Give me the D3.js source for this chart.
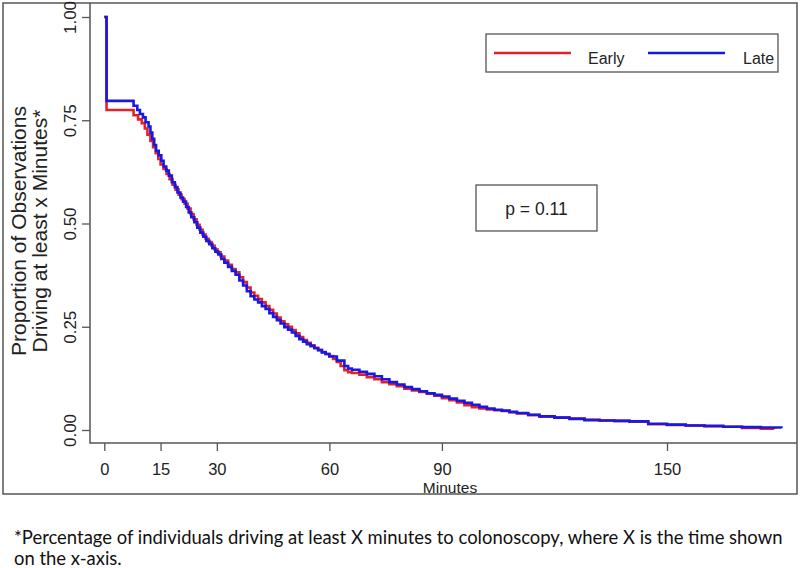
<!DOCTYPE html>
<html>
<head>
<meta charset="utf-8">
<script src="https://cdn.jsdelivr.net/npm/d3@7"></script>
<style>
  html, body { margin: 0; padding: 0; background: #fff; }
  svg { display: block; }
</style>
</head>
<body>
<svg id="chart" width="800" height="568"></svg>
<script>
// ---------- DATA ----------
const seriesNames = ["Early", "Late"];
const xTickValues = [0, 15, 30, 60, 90, 150];
const yTickValues = [0, 0.25, 0.5, 0.75, 1.0];
const pValueLabel = "p = 0.11";
const xTitle = "Minutes";
const yTitleLines = ["Proportion of Observations", "Driving at least x Minutes*"];
const footnoteLines = [
  "*Percentage of individuals driving at least X minutes to colonoscopy, where X is the time shown",
  "on the x-axis."
];

// Early group: [minutes, proportion]
const earlyTimes = [0, 0.6, 7.8, 9, 10, 10.8, 11.5, 12.3, 13, 13.7, 14.4, 15, 15.8, 16.6, 17.4, 18.2, 19, 19.8, 20.6, 21.4, 22.2, 23, 23.8, 24.6, 25.4, 26.2, 27, 27.8, 28.6, 29.4, 30.2, 31, 32, 33, 34, 35, 36, 37, 38, 39, 40, 41, 42, 43, 44, 45, 46, 47, 48, 49, 50, 51, 52, 53, 54, 55, 56, 57, 58, 59, 60, 61, 62, 63, 64, 65, 66, 68, 70, 72, 74, 76, 78, 80, 82, 84, 86, 88, 90, 92, 94, 96, 98, 100, 102, 104, 106, 108, 110, 113, 116, 120, 124, 128, 132, 136, 140, 145, 150, 155, 160, 165, 170, 175, 178.5];
const earlyProps = [1.0, 0.775, 0.762, 0.752, 0.743, 0.73, 0.715, 0.70, 0.685, 0.67, 0.656, 0.643, 0.632, 0.62, 0.607, 0.594, 0.582, 0.57, 0.559, 0.548, 0.536, 0.523, 0.51, 0.497, 0.485, 0.473, 0.463, 0.455, 0.446, 0.437, 0.43, 0.42, 0.41, 0.40, 0.39, 0.382, 0.37, 0.358, 0.345, 0.333, 0.325, 0.317, 0.309, 0.30, 0.291, 0.282, 0.272, 0.263, 0.256, 0.25, 0.242, 0.234, 0.225, 0.218, 0.211, 0.205, 0.199, 0.194, 0.189, 0.184, 0.179, 0.172, 0.165, 0.155, 0.145, 0.14, 0.138, 0.134, 0.128, 0.123, 0.116, 0.111, 0.106, 0.10, 0.096, 0.092, 0.088, 0.083, 0.077, 0.072, 0.067, 0.06, 0.055, 0.052, 0.05, 0.048, 0.046, 0.043, 0.04, 0.036, 0.033, 0.03, 0.028, 0.025, 0.023, 0.022, 0.02, 0.014, 0.012, 0.011, 0.009, 0.008, 0.005, 0.003, 0.002];

// Late group: [minutes, proportion]
const lateTimes = [0, 0.6, 7.8, 8.8, 9.5, 10.3, 11, 11.8, 12.3, 12.8, 13.3, 13.8, 14.5, 15.2, 15.8, 16.5, 17.2, 18, 18.8, 19.5, 20.3, 21, 21.8, 22.5, 23.2, 24, 24.8, 25.6, 26.4, 27.2, 28, 28.8, 29.6, 30.4, 31.2, 32, 33, 34, 35, 36, 37, 38, 39, 40, 41, 42, 43, 44, 45, 46, 47, 48, 49, 50, 51, 52, 53, 54, 55, 56, 57, 58, 59, 60, 62, 64, 65, 66, 68, 70, 72, 74, 76, 78, 80, 82, 84, 86, 88, 90, 92, 94, 96, 98, 100, 102, 104, 106, 108, 110, 113, 116, 120, 124, 128, 132, 136, 140, 145, 150, 155, 160, 165, 170, 175, 180.5];
const lateProps = [1.0, 0.797, 0.785, 0.775, 0.765, 0.757, 0.745, 0.735, 0.72, 0.705, 0.69, 0.676, 0.665, 0.652, 0.638, 0.628, 0.616, 0.60, 0.588, 0.575, 0.563, 0.553, 0.54, 0.527, 0.515, 0.503, 0.49, 0.478, 0.468, 0.458, 0.45, 0.44, 0.432, 0.425, 0.414, 0.405, 0.395, 0.385, 0.376, 0.362, 0.35, 0.336, 0.324, 0.316, 0.309, 0.30, 0.293, 0.283, 0.274, 0.266, 0.258, 0.249, 0.243, 0.236, 0.228, 0.22, 0.214, 0.208, 0.203, 0.198, 0.193, 0.188, 0.184, 0.178, 0.168, 0.155, 0.149, 0.146, 0.141, 0.136, 0.13, 0.123, 0.116, 0.11, 0.104, 0.099, 0.094, 0.089, 0.085, 0.081, 0.076, 0.071, 0.066, 0.061, 0.056, 0.052, 0.049, 0.047, 0.044, 0.041, 0.037, 0.033, 0.03, 0.027, 0.024, 0.023, 0.022, 0.021, 0.015, 0.013, 0.011, 0.01, 0.008, 0.007, 0.006, 0.004];

const seriesColors = ["#e4212a", "#1818e0"];

// ---------- LAYOUT ----------
const svg = d3.select("#chart");
const axisColor = "#555";
const textColor = "#222";
const fontFamily = "'Liberation Sans', Arial, Helvetica, sans-serif";

const boxLeft = 90, boxTop = 3, boxRight = 797, boxBottom = 443;

const x = d3.scaleLinear().domain([0, 150]).range([104.3, 667]);
const y = d3.scaleLinear().domain([0, 1]).range([430, 17]);

// outer figure frame
svg.append("rect")
  .attr("x", 3).attr("y", 3).attr("width", 794).attr("height", 491)
  .attr("fill", "none").attr("stroke", axisColor).attr("stroke-width", 1.5);

// plot frame
svg.append("path")
  .attr("d", `M${boxLeft},${boxTop}V${boxBottom}H${boxRight}`)
  .attr("fill", "none").attr("stroke", axisColor).attr("stroke-width", 1.5);

// x axis
const gx = svg.append("g").attr("transform", `translate(0,${boxBottom})`)
  .call(d3.axisBottom(x).tickValues(xTickValues).tickFormat(d3.format("d")).tickSize(8));
gx.select(".domain").remove();
gx.selectAll(".tick line").attr("stroke", axisColor).attr("stroke-width", 1.3);
gx.selectAll(".tick text")
  .attr("y", 31.5).attr("dy", null)
  .attr("fill", textColor)
  .style("font-family", fontFamily).style("font-size", "16.5px");

// y axis
const gy = svg.append("g").attr("transform", `translate(${boxLeft},0)`)
  .call(d3.axisLeft(y).tickValues(yTickValues).tickFormat(d3.format(".2f")).tickSize(8));
gy.select(".domain").remove();
gy.selectAll(".tick line").attr("stroke", axisColor).attr("stroke-width", 1.3);
gy.selectAll(".tick text")
  .attr("x", null).attr("dy", null)
  .attr("text-anchor", "middle")
  .attr("transform", "translate(-14,0) rotate(-90)")
  .attr("fill", textColor)
  .style("font-family", fontFamily).style("font-size", "17px");

// axis titles
svg.append("text")
  .attr("x", 450).attr("y", 492.5)
  .attr("text-anchor", "middle")
  .attr("fill", textColor)
  .style("font-family", fontFamily).style("font-size", "15.5px")
  .text(xTitle);

yTitleLines.forEach((line, i) => {
  svg.append("text")
    .attr("transform", `translate(${26 + i * 21},231) rotate(-90)`)
    .attr("text-anchor", "middle")
    .attr("fill", textColor)
    .style("font-family", fontFamily).style("font-size", "21px")
    .text(line);
});

// curves
const line = d3.line()
  .x(d => x(d[0]))
  .y(d => y(d[1]))
  .curve(d3.curveStepAfter);

const earlyData = earlyTimes.map((t, i) => [t, earlyProps[i]]);
const lateData = lateTimes.map((t, i) => [t, lateProps[i]]);

[earlyData, lateData].forEach((data, i) => {
  svg.append("path")
    .datum(data)
    .attr("d", line)
    .attr("fill", "none")
    .attr("stroke", seriesColors[i])
    .attr("stroke-width", 2.6)
    .attr("stroke-linejoin", "miter");
});

// legend
const legend = svg.append("g");
legend.append("rect")
  .attr("x", 486).attr("y", 34).attr("width", 292).attr("height", 38)
  .attr("fill", "#fff").attr("stroke", axisColor).attr("stroke-width", 1.3);
const legendItems = [
  { lx1: 494, lx2: 571, tx: 588 },
  { lx1: 648, lx2: 725, tx: 743 }
];
seriesNames.forEach((name, i) => {
  const it = legendItems[i];
  legend.append("line")
    .attr("x1", it.lx1).attr("x2", it.lx2).attr("y1", 53).attr("y2", 53)
    .attr("stroke", seriesColors[i]).attr("stroke-width", 2.4);
  legend.append("text")
    .attr("x", it.tx).attr("y", 64)
    .attr("fill", textColor)
    .style("font-family", fontFamily).style("font-size", "16px")
    .text(name);
});

// p-value box
svg.append("rect")
  .attr("x", 476).attr("y", 185).attr("width", 121).attr("height", 46)
  .attr("fill", "#fff").attr("stroke", axisColor).attr("stroke-width", 1.3);
svg.append("text")
  .attr("x", 536.5).attr("y", 215)
  .attr("text-anchor", "middle")
  .attr("fill", textColor)
  .style("font-family", fontFamily).style("font-size", "17.5px")
  .text(pValueLabel);

// footnote
const footFont = "Lato, 'Open Sans', sans-serif";
const fn = footnoteLines.map((txt, i) =>
  svg.append("text")
    .attr("x", 14).attr("y", 544 + i * 21)
    .attr("fill", "#111")
    .style("font-family", footFont).style("font-size", "16px")
    .text(txt)
);
const w0 = fn[0].node().getComputedTextLength();
const fs = 16 * 769 / w0;
fn.forEach(t => t.style("font-size", fs + "px"));
</script>
</body>
</html>
